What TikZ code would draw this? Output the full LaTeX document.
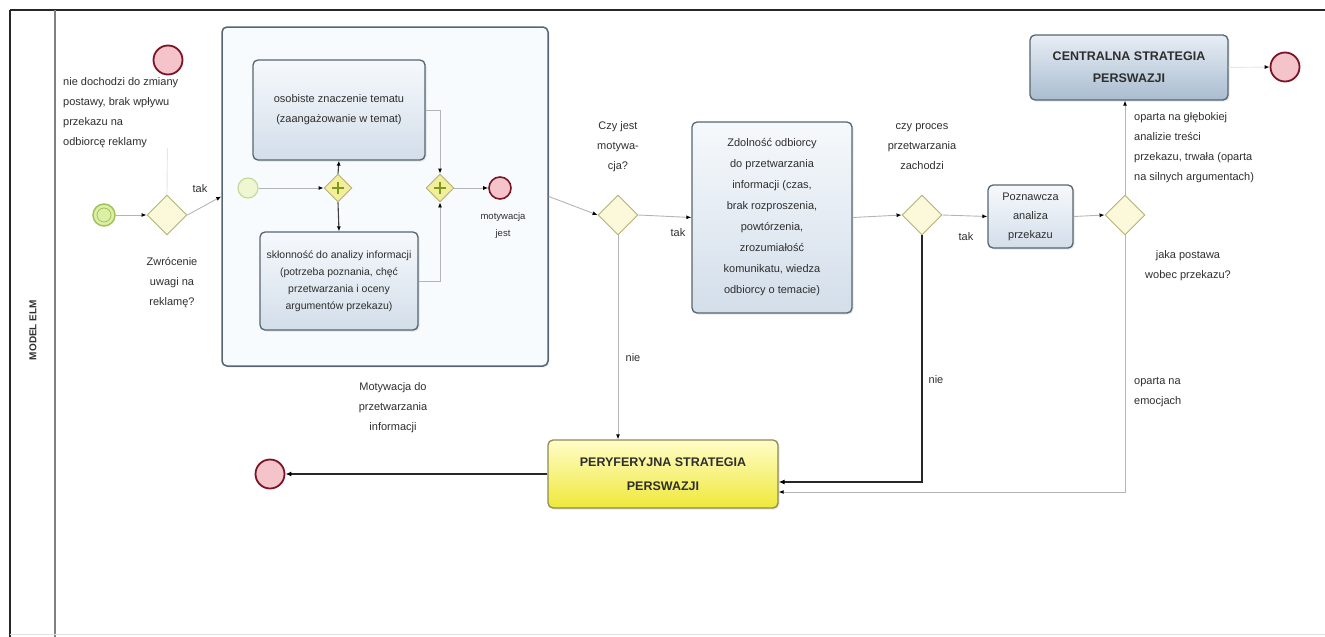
\documentclass[tikz,border=0pt]{standalone}
\usepackage{fontspec}
\setmainfont{Liberation Sans}
\usetikzlibrary{shapes.geometric,arrows.meta,shadows}
\definecolor{taskborder}{HTML}{56656F}
\definecolor{tasktop}{HTML}{F6F9FC}
\definecolor{taskbot}{HTML}{D3DEEA}
\definecolor{subfill}{HTML}{F7FBFD}
\definecolor{gwfill}{HTML}{FBF9DA}
\definecolor{gwborder}{HTML}{B3B07A}
\definecolor{pgwfill}{HTML}{F3EE9A}
\definecolor{plusgreen}{HTML}{7E9A1E}
\definecolor{centop}{HTML}{E8EEF5}
\definecolor{cenbot}{HTML}{A9BCD0}
\definecolor{pertop}{HTML}{FFFDC8}
\definecolor{perbot}{HTML}{EFE83A}
\definecolor{perborder}{HTML}{8C8A55}
\definecolor{endfill}{HTML}{F5C3CA}
\definecolor{endborder}{HTML}{7A1525}
\definecolor{startfill}{HTML}{DDEFA6}
\definecolor{startborder}{HTML}{A2C25A}
\definecolor{txt}{HTML}{2E2E2E}
\definecolor{flowgray}{HTML}{B4B4B4}
\tikzset{
  every node/.style={text=txt},
  taskbox/.style={draw=taskborder, line width=1.3pt, rounded corners=5pt, top color=tasktop, bottom color=taskbot, align=center, inner sep=2pt, font=\fontsize{11}{20}\selectfont, drop shadow={opacity=0.2,shadow xshift=1.5pt,shadow yshift=-1.5pt}},
  gate/.style={diamond, aspect=1, minimum width=40pt, minimum height=40pt, inner sep=0pt, draw=gwborder, fill=gwfill, line width=0.9pt},
  pgate/.style={diamond, aspect=1, minimum width=28pt, minimum height=28pt, inner sep=0pt, draw=gwborder, fill=pgwfill, line width=0.9pt},
  startev/.style={circle, minimum size=22pt, inner sep=0pt, draw=startborder, fill=startfill, line width=1.5pt},
  endev/.style={circle, minimum size=29pt, inner sep=0pt, draw=endborder, fill=endfill, line width=1.8pt},
  lbl/.style={align=center, font=\fontsize{11}{20}\selectfont, inner sep=1pt},
  lbll/.style={align=left, font=\fontsize{11}{20}\selectfont, inner sep=1pt},
  flow/.style={draw=flowgray, line width=0.9pt, -{Latex[length=5pt,width=4pt,color=black]}},
  darkflow/.style={draw=black!85, line width=1.4pt, -{Latex[length=6pt,width=5pt,color=black]}},
  midflow/.style={draw=black!75, line width=1.1pt, -{Latex[length=5pt,width=4pt,color=black]}}
}
\begin{document}
\begin{tikzpicture}[x=1pt,y=-1pt]
\useasboundingbox (0,0) rectangle (1325,637);
% pool
\draw[black!85, line width=2.8pt] (10,10) -- (1325,10);
\draw[black!85, line width=1.6pt] (10,10) -- (10,637);
\draw[black!50, line width=1.6pt] (55,10) -- (55,637);
\draw[black!12, line width=0.8pt] (10,634) -- (1325,634);
\node[rotate=90, font=\bfseries\fontsize{10}{11}\selectfont] (pool) at (33,330) {MODEL ELM};

% subprocess
\node[draw=taskborder, line width=1.5pt, rounded corners=5pt, fill=subfill, minimum width=326pt, minimum height=339pt, inner sep=0pt, drop shadow={opacity=0.15,shadow xshift=1.5pt,shadow yshift=-1.5pt}] (sub) at (385,196.5) {};

% events and gateways
\node[startev] (st) at (104,215) {};
\node[circle, minimum size=14pt, inner sep=0pt, draw=startborder, line width=0.8pt] (stin) at (104,215) {};
\node[gate] (gw1) at (167,215) {};
\node[endev] (e1) at (168,60) {};

\node[circle, minimum size=20pt, inner sep=0pt, draw=startborder!60, fill=startfill!50, line width=1.2pt] (ist) at (248,188) {};
\node[pgate] (pg1) at (338,188) {};
\node[pgate] (pg2) at (440,188) {};
\draw[line width=2.2pt, plusgreen] ([xshift=-6pt]pg1.center) -- ([xshift=6pt]pg1.center) ([yshift=-6pt]pg1.center) -- ([yshift=6pt]pg1.center);
\draw[line width=2.2pt, plusgreen] ([xshift=-6pt]pg2.center) -- ([xshift=6pt]pg2.center) ([yshift=-6pt]pg2.center) -- ([yshift=6pt]pg2.center);
\node[circle, minimum size=22pt, inner sep=0pt, draw=endborder, fill=endfill, line width=1.6pt] (ie) at (500,188) {};

\node[taskbox, minimum width=172pt, minimum height=100pt] (t1) at (339,110) {osobiste znaczenie tematu\\(zaangażowanie w temat)};
\node[taskbox, minimum width=158pt, minimum height=98pt, font=\fontsize{10.5}{17}\selectfont] (t2) at (339,281) {skłonność do analizy informacji\\(potrzeba poznania, chęć\\przetwarzania i oceny\\argumentów przekazu)};

\node[gate] (gw2) at (618,215) {};
\node[taskbox, minimum width=160pt, minimum height=191pt, font=\fontsize{11}{21}\selectfont] (tz) at (772,217.5) {Zdolność odbiorcy\\do przetwarzania\\informacji (czas,\\brak rozproszenia,\\powtórzenia,\\zrozumiałość\\komunikatu, wiedza\\odbiorcy o temacie)};
\node[gate] (gw3) at (922,215) {};
\node[taskbox, minimum width=85pt, minimum height=63pt, font=\fontsize{11}{19}\selectfont] (tp) at (1030.5,216.5) {Poznawcza\\analiza\\przekazu};
\node[gate] (gw4) at (1125,215) {};
\node[taskbox, minimum width=198pt, minimum height=65pt, top color=centop, bottom color=cenbot, font=\bfseries\fontsize{12.5}{22}\selectfont] (cen) at (1129,67.5) {CENTRALNA STRATEGIA\\PERSWAZJI};
\node[endev] (e3) at (1285,67) {};
\node[taskbox, draw=perborder, minimum width=230pt, minimum height=68pt, top color=pertop, bottom color=perbot, font=\bfseries\fontsize{12.5}{24}\selectfont] (per) at (663,474) {PERYFERYJNA STRATEGIA\\PERSWAZJI};
\node[endev] (e2) at (270,474) {};

\coordinate (pin1) at ([yshift=-8pt]per.east);
\coordinate (pin2) at ([yshift=-18pt]per.east);

% connectors
\draw[flow, draw=black!10] (gw1.north) -- (e1.south);
\draw[flow] (st) -- (gw1);
\draw[flow] (gw1.east) -- (sub.west);
\draw[flow] (ist) -- (pg1.west);
\draw[midflow] (pg1.north) -- (t1.south);
\draw[midflow] (pg1.south) -- (t2.north);
\draw[flow] (t1.east) -| (pg2.north);
\draw[flow] (t2.east) -| (pg2.south);
\draw[flow] (pg2.east) -- (ie);
\draw[flow] (sub.east) -- (gw2.west);
\draw[flow] (gw2.east) -- (tz.west);
\draw[flow] (gw2.south) -- (gw2.south |- per.north);
\draw[flow] (tz.east) -- (gw3.west);
\draw[flow] (gw3.east) -- (tp.west);
\draw[darkflow] (gw3.south) |- (pin1);
\draw[flow] (tp.east) -- (gw4.west);
\draw[flow] (gw4.north) -- (gw4.north |- cen.south);
\draw[flow] (gw4.south) |- (pin2);
\draw[flow, draw=black!10] (cen.east) -- (e3.west);
\draw[darkflow] (per.west) -- (e2.east);

% labels
\node[lbll, fill=white, anchor=north west] (le1) at (62,76) {nie dochodzi do zmiany\\postawy, brak wpływu\\przekazu na\\odbiorcę reklamy};
\node[lbl] (lgw1) at (172,283) {Zwrócenie\\uwagi na\\reklamę?};
\node[lbl] (ltak1) at (200,189) {tak};
\node[lbl] (lsub) at (393,408) {Motywacja do\\przetwarzania\\informacji};
\node[lbl, font=\fontsize{9.5}{17}\selectfont] (lie) at (503,226) {motywacja\\jest};
\node[lbl] (lgw2) at (618,147) {Czy jest\\motywa-\\cja?};
\node[lbl] (ltak2) at (678,233) {tak};
\node[lbl] (lnie2) at (633,358) {nie};
\node[lbl] (lgw3) at (922,147) {czy proces\\przetwarzania\\zachodzi};
\node[lbl] (ltak3) at (966,237) {tak};
\node[lbl] (lnie3) at (936,380) {nie};
\node[lbll, anchor=north west] (lcen) at (1133,111) {oparta na głębokiej\\analizie treści\\przekazu, trwała (oparta\\na silnych argumentach)};
\node[lbl] (lgw4) at (1188,266) {jaka postawa\\wobec przekazu?};
\node[lbll, anchor=north west] (lper) at (1133,376) {oparta na\\emocjach};
\end{tikzpicture}
\end{document}
